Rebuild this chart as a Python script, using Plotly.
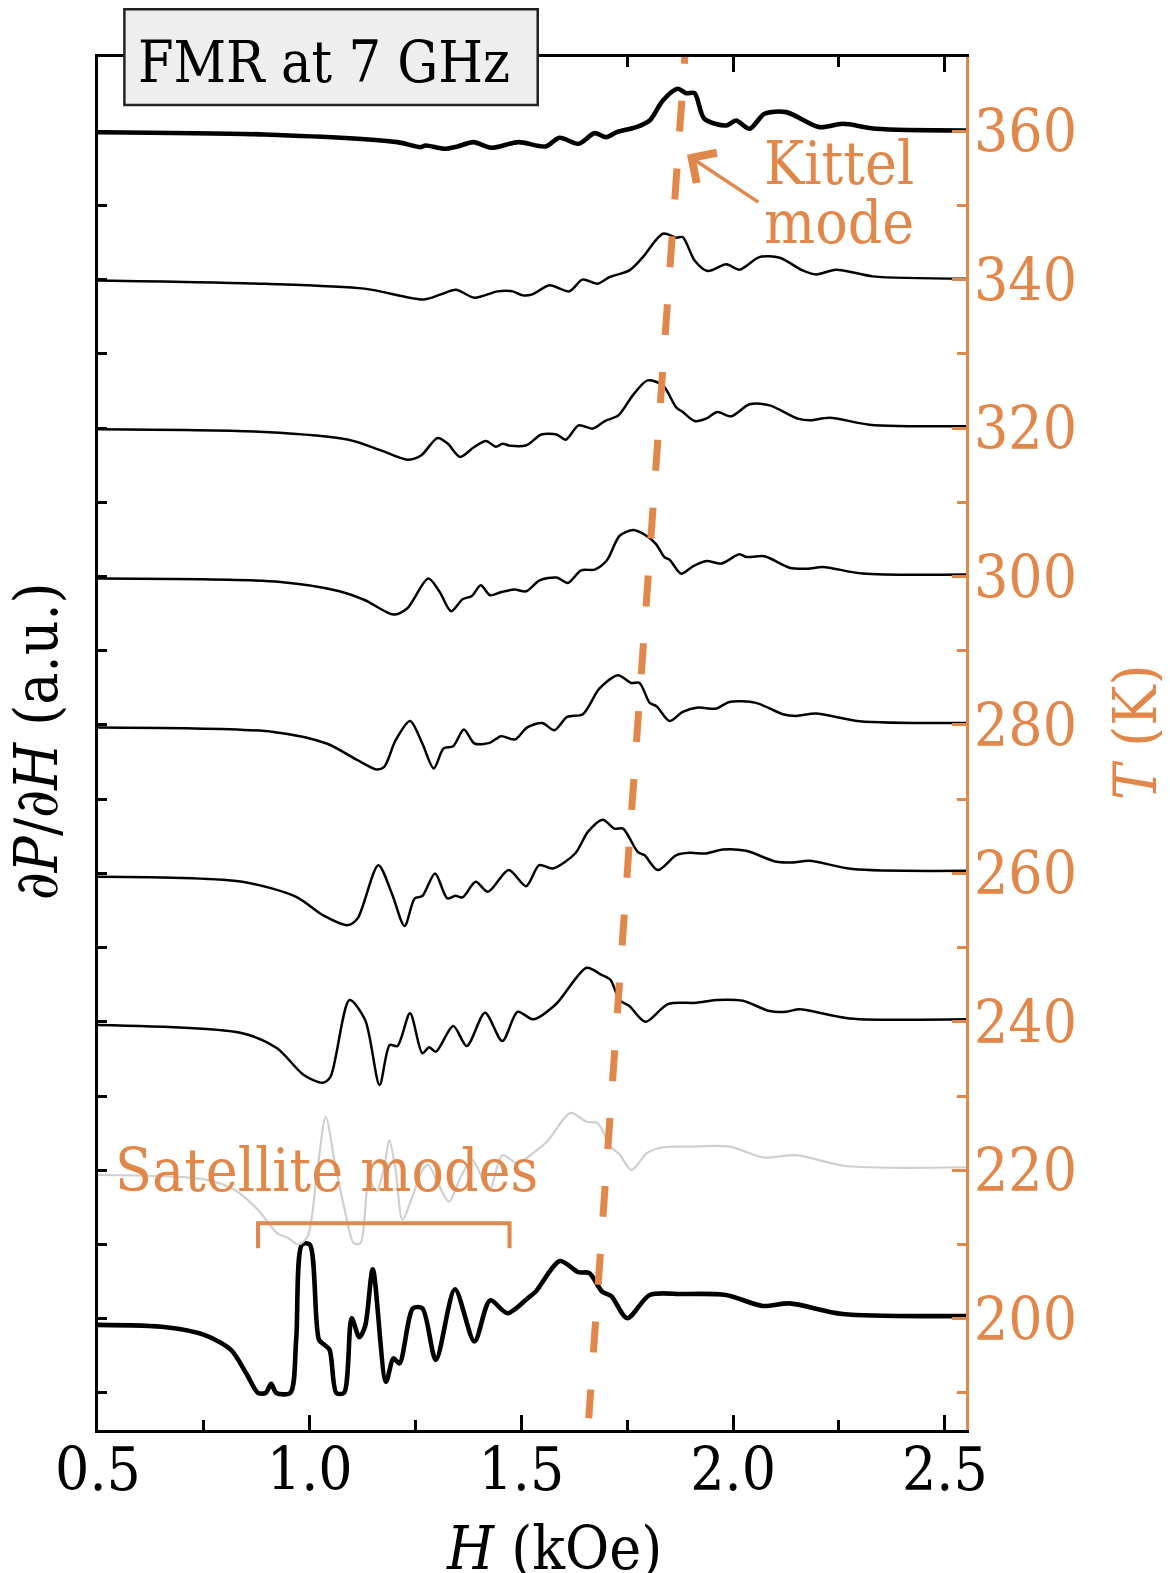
import plotly.graph_objects as go

# ---------------- data ----------------
temperatures = [200, 220, 240, 260, 280, 300, 320, 340, 360]

H_200 = [0.50, 0.661, 0.751, 0.814, 0.850, 0.878, 0.896, 0.909, 0.921, 0.954, 0.968, 0.982, 1.000,
         1.022, 1.035, 1.047, 1.063, 1.081, 1.099, 1.117, 1.131, 1.149, 1.180, 1.198, 1.212, 1.244,
         1.266, 1.298, 1.343, 1.389, 1.426, 1.467, 1.515, 1.534, 1.591, 1.634, 1.660, 1.691, 1.712,
         1.750, 1.803, 1.881, 1.983, 2.070, 2.133, 2.259, 2.55]
dPdH_200 = [-0.84, -1.15, -2.19, -4.21, -7.35, -10, -10, -8.79, -10, -10, -2.86, 10, 10,
            -2.86, -3.53, -4.21, -10, -10, 0.06, -2.50, -0.98, 6.66, -8.50, -5.35, -6.03, 1.41,
            1.41, -5.56, 3.96, -3.07, 2.46, 0.74, 2.76, 3.66, 7.77, 6.27, 6.14, 3.62, 3.05,
            0.06, 3.19, 3.32, 3.19, 1.71, 2.06, 0.63, 0.37]

H_220 = [0.50, 0.751, 0.823, 0.878, 0.923, 0.950, 0.973, 0.995, 1.018, 1.038, 1.058, 1.081, 1.104,
         1.120, 1.140, 1.158, 1.176, 1.188, 1.203, 1.219, 1.244, 1.266, 1.280, 1.303, 1.329, 1.357,
         1.384, 1.424, 1.455, 1.491, 1.526, 1.562, 1.616, 1.654, 1.680, 1.711, 1.732, 1.760, 1.797,
         1.834, 1.897, 1.992, 2.071, 2.149, 2.267, 2.55]
dPdH_220 = [-0.64, -1.22, -2.66, -5.35, -8.48, -9.16, -10.0, -8.92, 0.03, 7.21, 1.38, -4.91, -9.83,
            -9.83, -1.31, -2.86, 0.48, 4.07, 0.03, -6.70, -3.33, 0.03, 0.71, -1.76, -4.24, -0.87,
            1.38, -2.66, 2.03, 0.90, 2.25, 3.94, 7.72, 6.53, 6.33, 3.17, 2.12, 0.03, 2.33,
            3.10, 3.19, 3.19, 1.73, 2.03, 0.57, 0.40]

H_240 = [0.50, 0.841, 0.923, 0.986, 1.031, 1.049, 1.094, 1.131, 1.165, 1.189, 1.207, 1.237, 1.266,
         1.282, 1.298, 1.339, 1.371, 1.414, 1.455, 1.491, 1.528, 1.582, 1.654, 1.688, 1.710, 1.732,
         1.755, 1.793, 1.846, 1.913, 1.960, 2.023, 2.086, 2.125, 2.157, 2.275, 2.55]
dPdH_240 = [-0.44, -1.55, -3.57, -7.17, -8.21, -7.41, 2.93, 0.24, -8.51, -3.13, -3.27, 1.14, -4.24,
            -3.43, -4.02, -0.57, -3.27, 1.21, -2.60, 1.35, 0.33, 2.40, 7.29, 6.36, 5.68, 2.93,
            2.12, 0.00, 2.39, 2.56, 2.93, 2.83, 1.45, 1.36, 1.68, 0.46, 0.33]

H_260 = [0.50, 0.841, 0.968, 1.031, 1.090, 1.113, 1.162, 1.194, 1.224, 1.248, 1.266, 1.296, 1.325,
         1.344, 1.361, 1.392, 1.421, 1.470, 1.511, 1.542, 1.574, 1.627, 1.657, 1.692, 1.720, 1.740,
         1.775, 1.791, 1.822, 1.866, 1.897, 1.936, 1.976, 2.031, 2.102, 2.141, 2.180, 2.283, 2.55]
dPdH_260 = [-0.46, -1.14, -3.16, -5.62, -6.97, -6.07, 1.11, -2.70, -7.10, -3.37, -3.06, -0.01, -3.37,
            -3.02, -3.24, -1.14, -2.48, 0.44, -1.72, 1.11, 0.66, 2.68, 5.60, 7.24, 6.03, 6.03,
            2.88, 2.43, 0.44, 2.46, 2.77, 2.68, 3.22, 3.04, 1.56, 1.48, 1.70, 0.58, 0.35]

H_280 = [0.50, 0.914, 1.040, 1.113, 1.158, 1.176, 1.203, 1.237, 1.266, 1.293, 1.316, 1.339, 1.364,
         1.389, 1.425, 1.452, 1.485, 1.513, 1.549, 1.578, 1.608, 1.645, 1.684, 1.728, 1.759, 1.779,
         1.803, 1.819, 1.850, 1.881, 1.917, 1.960, 1.991, 2.054, 2.117, 2.149, 2.196, 2.298, 2.55]
dPdH_280 = [-0.34, -0.94, -2.50, -4.75, -6.00, -5.64, -2.06, 0.54, -2.50, -5.86, -3.17, -2.86, -0.61,
            -2.50, -2.42, -1.51, -1.95, -0.36, 0.27, -0.71, 1.08, 1.45, 4.88, 6.70, 5.66, 5.66,
            2.97, 2.53, 0.54, 1.75, 2.34, 2.20, 3.10, 2.97, 1.45, 1.22, 1.55, 0.51, 0.27]

H_300 = [0.50, 0.931, 1.068, 1.131, 1.198, 1.230, 1.280, 1.307, 1.334, 1.361, 1.383, 1.404, 1.426,
         1.453, 1.484, 1.511, 1.543, 1.583, 1.610, 1.641, 1.673, 1.702, 1.732, 1.764, 1.795, 1.818,
         1.838, 1.850, 1.877, 1.905, 1.937, 1.972, 2.015, 2.031, 2.074, 2.133, 2.176, 2.212, 2.306, 2.55]
dPdH_300 = [-0.28, -0.73, -1.95, -3.20, -5.13, -4.32, -0.28, -2.08, -4.68, -3.07, -2.62, -1.18, -2.53,
            -2.08, -1.76, -1.99, -0.51, -0.14, -0.87, 0.84, 0.93, 2.19, 5.49, 6.26, 5.49, 4.37,
            2.60, 2.27, 0.39, 1.38, 2.09, 1.74, 2.99, 2.63, 2.72, 1.19, 1.06, 1.28, 0.39, 0.26]

H_320 = [0.50, 0.893, 1.089, 1.168, 1.231, 1.263, 1.302, 1.326, 1.355, 1.387, 1.416, 1.440, 1.455,
         1.474, 1.512, 1.547, 1.583, 1.605, 1.635, 1.668, 1.697, 1.729, 1.763, 1.798, 1.834, 1.866,
         1.881, 1.909, 1.936, 1.963, 1.995, 2.039, 2.086, 2.153, 2.180, 2.228, 2.322, 2.55]
dPdH_320 = [-0.17, -0.53, -1.55, -3.00, -4.26, -3.69, -1.33, -2.09, -3.88, -2.62, -1.74, -2.53, -2.12,
            -2.39, -2.32, -0.86, -0.86, -1.56, 0.37, -0.07, 0.95, 1.71, 4.41, 6.43, 5.76, 2.76,
            2.17, 0.95, 1.27, 2.17, 1.58, 3.20, 3.06, 1.27, 1.04, 1.40, 0.46, 0.24]

H_340 = [0.50, 0.893, 1.129, 1.270, 1.310, 1.345, 1.389, 1.444, 1.479, 1.503, 1.526, 1.566, 1.613,
         1.644, 1.680, 1.708, 1.755, 1.787, 1.834, 1.866, 1.881, 1.909, 1.940, 1.984, 2.015, 2.062,
         2.110, 2.164, 2.196, 2.243, 2.330, 2.55]
dPdH_340 = [-0.10, -0.55, -1.21, -2.66, -1.99, -1.35, -2.43, -1.58, -1.58, -2.12, -1.99, -0.77, -1.58,
            0.00, -0.54, 0.34, 1.25, 3.04, 6.19, 5.65, 5.73, 2.59, 1.16, 2.06, 1.35, 3.04,
            2.96, 1.25, 0.71, 1.35, 0.44, 0.13]

H_360 = [0.50, 0.893, 1.207, 1.262, 1.274, 1.318, 1.349, 1.387, 1.429, 1.493, 1.557, 1.590, 1.635,
         1.673, 1.700, 1.725, 1.771, 1.803, 1.834, 1.869, 1.889, 1.909, 1.932, 1.984, 2.007, 2.039,
         2.074, 2.125, 2.204, 2.259, 2.338, 2.55]
dPdH_360 = [-0.13, -0.44, -1.47, -2.15, -1.92, -2.36, -2.05, -1.47, -2.23, -1.47, -2.05, -0.88, -1.69,
            -0.26, -0.80, -0.13, 0.55, 1.45, 4.14, 5.72, 5.12, 5.12, 1.68, 0.77, 1.45, 0.33,
            2.35, 2.57, 0.55, 1.00, 0.33, 0.10]

# Kittel-mode guide line (H in kOe, T in K)
kittel_H = [1.890, 1.659]
kittel_T = [373.26, 186.59]

x_tick_values = [0.5, 1.0, 1.5, 2.0, 2.5]
x_tick_labels = ["0.5", "1.0", "1.5", "2.0", "2.5"]

# ---------------- styling ----------------
ORANGE = "#E2874A"
GRAY = "#CFCFCF"
FONT = "DejaVu Serif Condensed, DejaVu Serif, Liberation Serif, serif"
FS = 60

series = {
    200: (H_200, dPdH_200), 220: (H_220, dPdH_220), 240: (H_240, dPdH_240),
    260: (H_260, dPdH_260), 280: (H_280, dPdH_280), 300: (H_300, dPdH_300),
    320: (H_320, dPdH_320), 340: (H_340, dPdH_340), 360: (H_360, dPdH_360),
}
style = {200: ("black", 4.6), 220: (GRAY, 2.2), 360: ("black", 4.6)}

fig = go.Figure()
for T in temperatures:
    H, d = series[T]
    color, width = style.get(T, ("black", 2.5))
    fig.add_trace(go.Scatter(
        x=H, y=[T + v for v in d], mode="lines",
        line=dict(color=color, width=width, shape="spline", smoothing=0.8),
        hoverinfo="skip", showlegend=False))

fig.add_trace(go.Scatter(
    x=kittel_H, y=kittel_T, mode="lines", yaxis="y2",
    line=dict(color=ORANGE, width=7, dash="31px,37px"),
    hoverinfo="skip", showlegend=False))

# the page body has an 8px margin, so the figure is made 8px smaller on each side
fig.update_layout(
    width=1162, height=1565, autosize=False,
    margin=dict(l=90, r=204, t=49, b=143, pad=0),
    paper_bgcolor="white", plot_bgcolor="white",
    font=dict(family=FONT, size=FS, color="black"),
    showlegend=False,
    xaxis=dict(
        range=[0.5, 2.55], showgrid=False, zeroline=False,
        showline=True, linecolor="black", linewidth=3, mirror="ticks",
        ticks="inside", ticklen=15, tickwidth=2.5, tickcolor="black",
        tickmode="array", tickvals=x_tick_values, ticktext=x_tick_labels,
        minor=dict(ticks="inside", ticklen=10, tickwidth=2.5, tickcolor="black",
                   tickmode="linear", tick0=0.75, dtick=0.5),
        tickfont=dict(family=FONT, size=FS, color="black"),
        ticklabelstandoff=-15,
    ),
    yaxis=dict(
        range=[185, 370], showgrid=False, zeroline=False,
        showline=True, linecolor="black", linewidth=3, mirror=False,
        ticks="inside", ticklen=9, tickwidth=2.5, tickcolor="black",
        tickmode="linear", tick0=190, dtick=10, showticklabels=False,
    ),
    yaxis2=dict(
        range=[185, 370], overlaying="y", side="right", showgrid=False, zeroline=False,
        showline=True, linecolor=ORANGE, linewidth=3,
        ticks="inside", ticklen=14, tickwidth=2.5, tickcolor=ORANGE,
        tickmode="linear", tick0=200, dtick=20,
        minor=dict(ticks="inside", ticklen=9, tickwidth=2.5, tickcolor=ORANGE,
                   tickmode="linear", tick0=190, dtick=20),
        tickfont=dict(family=FONT, size=FS, color=ORANGE),
        ticklabelstandoff=-7,
    ),
)

# title box
fig.add_shape(type="rect", xref="paper", yref="paper", x0=0.0304, x1=0.5066, y0=0.9650, y1=1.0348,
              fillcolor="#EEEEEE", line=dict(color="#222222", width=2.5), layer="above")
# satellite bracket
fig.add_shape(type="path", xref="x", yref="y",
              path="M 0.878,209.49 L 0.878,212.85 L 1.472,212.85 L 1.472,209.49",
              line=dict(color=ORANGE, width=4), layer="above")

ann = [
    dict(text="FMR at 7 GHz", xref="paper", yref="paper", x=0.2609, y=0.9964,
         xanchor="center", yanchor="middle", showarrow=False,
         font=dict(family=FONT, size=57, color="black")),
    dict(text="Kittel", xref="x", yref="y", x=2.069, y=355.66, xanchor="left", yanchor="middle",
         showarrow=False, font=dict(family=FONT, size=FS, color=ORANGE)),
    dict(text="mode", xref="x", yref="y", x=2.069, y=347.71, xanchor="left", yanchor="middle",
         showarrow=False, font=dict(family=FONT, size=FS, color=ORANGE)),
    dict(text="", xref="x", yref="y", x=1.891, y=356.83, axref="x", ayref="y", ax=2.063, ay=350.31,
         showarrow=True, arrowhead=4, arrowsize=2.0, arrowwidth=3.5, arrowcolor=ORANGE),
    dict(text="Satellite modes", xref="x", yref="y", x=1.0385, y=220.03, xanchor="center",
         yanchor="middle", showarrow=False, font=dict(family=FONT, size=FS, color=ORANGE)),
    dict(text="<i>H</i> (kOe)", xref="paper", yref="paper", x=0.5253, y=-0.0859,
         xanchor="center", yanchor="middle", showarrow=False,
         font=dict(family=FONT, size=FS, color="black")),
    dict(text="∂<i>P</i>/∂<i>H</i> (a.u.)", xref="paper", yref="paper", x=-0.0704, y=0.5015,
         xanchor="center", yanchor="middle", textangle=-90, showarrow=False,
         font=dict(family=FONT, size=FS, color="black")),
    dict(text="<i>T</i> (K)", xref="paper", yref="paper", x=1.1947, y=0.5084,
         xanchor="center", yanchor="middle", textangle=-90, showarrow=False,
         font=dict(family=FONT, size=FS, color=ORANGE)),
]
fig.update_layout(annotations=ann)

fig.write_html("out.html")
